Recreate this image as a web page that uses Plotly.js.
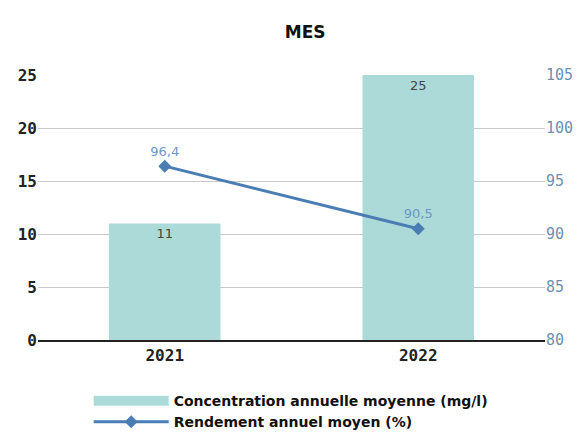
<!DOCTYPE html>
<html><head><meta charset="utf-8">
<script src="https://cdn.plot.ly/plotly-3.0.1.min.js"></script>
<style>html,body{margin:0;padding:0;background:#fff}#c{width:587px;height:436px}</style>
</head><body><div id="c"></div>
<script>
const years = ['2021', '2022'];
const concentration = [11, 25];
const rendement = [96.4, 90.5];
const leftTicks = [0, 5, 10, 15, 20, 25];
const rightTicks = [80, 85, 90, 95, 100, 105];
const seriesNames = ['Concentration annuelle moyenne (mg/l)', 'Rendement annuel moyen (%)'];

const fmt = v => String(v).replace('.', ',');
const barColor = '#acdad8';
const lineColor = '#4a7db3';

const traces = [
  {
    type: 'bar', x: years, y: concentration, name: seriesNames[0], showlegend: false,
    marker: {color: barColor, line: {width: 0}},
    text: concentration.map(fmt), textposition: 'inside', insidetextanchor: 'end',
    textfont: {family: 'DejaVu Sans', size: 13, color: '#444'},
    cliponaxis: false
  },
  {
    // legend entry for the bar series (wide swatch as in the reference)
    type: 'scatter', mode: 'lines', x: [years[0]], y: [null], name: seriesNames[0],
    line: {color: barColor, width: 13}, showlegend: true, hoverinfo: 'skip'
  },
  {
    type: 'scatter', mode: 'lines+markers+text', x: years, y: rendement, yaxis: 'y2',
    name: seriesNames[1],
    line: {color: lineColor, width: 3},
    marker: {symbol: 'diamond', size: 10, color: lineColor},
    text: rendement.map(fmt), textposition: 'top center',
    textfont: {family: 'DejaVu Sans', size: 13, color: '#6d97c6'},
    cliponaxis: false
  }
];

const layout = {
  width: 587, height: 436,
  margin: {l: 38, r: 42, t: 75, b: 96, autoexpand: false},
  paper_bgcolor: '#fff', plot_bgcolor: '#fff',
  title: {text: '<b>MES</b>', x: 0.52, xanchor: 'center', y: 0.94,
          font: {family: 'DejaVu Sans', size: 17, color: '#111'}},
  bargap: 0.56,
  showlegend: true,
  legend: {orientation: 'v', x: 0.1, xanchor: 'left', y: -0.17, yanchor: 'top',
           font: {family: 'DejaVu Sans', size: 14, color: '#111', weight: 'bold'},
           traceorder: 'normal', itemwidth: 75, tracegroupgap: 0},
  xaxis: {type: 'category', showgrid: false, showline: true, linecolor: '#222', linewidth: 2,
          ticks: '', tickfont: {family: 'DejaVu Sans Mono', size: 16, color: '#222', weight: 'bold'}},
  yaxis: {range: [0, 25], tickvals: leftTicks, showgrid: true, gridcolor: '#c8c8c8', gridwidth: 1,
          zeroline: false, showline: false, ticks: '',
          tickfont: {family: 'DejaVu Sans Mono', size: 16, color: '#222', weight: 'bold'}},
  yaxis2: {range: [80, 105], tickvals: rightTicks, overlaying: 'y', side: 'right',
           showgrid: false, zeroline: false, showline: false, ticks: '',
           tickfont: {family: 'DejaVu Sans Mono', size: 15, color: '#6e8fb3'}}
};

Plotly.newPlot('c', traces, layout, {displayModeBar: false, staticPlot: true});
</script></body></html>
